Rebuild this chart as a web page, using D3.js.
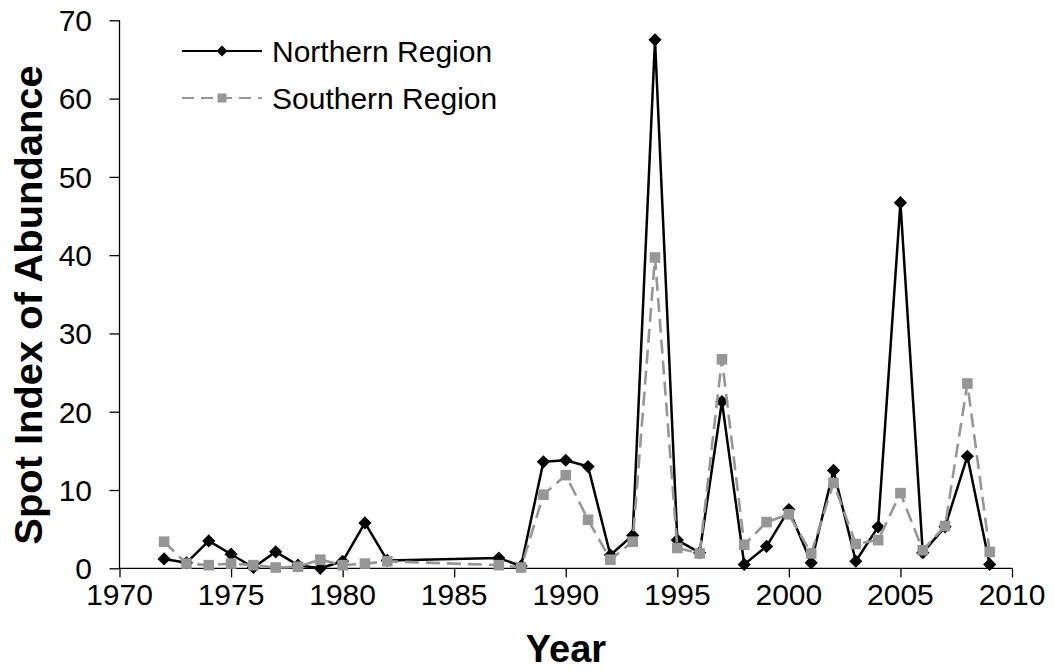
<!DOCTYPE html>
<html>
<head>
<meta charset="utf-8">
<script src="https://cdn.jsdelivr.net/npm/d3@7"></script>
<style>
  html, body { margin: 0; padding: 0; background: #fff; }
  svg { display: block; }
  text { font-family: "Liberation Sans", Arial, sans-serif; fill: #000; }
</style>
</head>
<body>
<svg id="chart" width="1055" height="671"></svg>
<script>
// Survey years (no sampling 1983-1986)
const years = [1972, 1973, 1974, 1975, 1976, 1977, 1978, 1979, 1980, 1981, 1982,
               1987, 1988, 1989, 1990, 1991, 1992, 1993, 1994, 1995, 1996, 1997, 1998,
               1999, 2000, 2001, 2002, 2003, 2004, 2005, 2006, 2007, 2008, 2009];

const northern = [1.2, 0.7, 3.5, 1.8, 0.1, 2.1, 0.4, 0.0, 0.9, 5.8, 1.0,
                  1.3, 0.3, 13.6, 13.8, 13.0, 1.7, 4.2, 67.5, 3.6, 2.0, 21.3, 0.5,
                  2.8, 7.5, 0.7, 12.5, 0.9, 5.3, 46.7, 2.0, 5.3, 14.3, 0.5];

const southern = [3.4, 0.6, 0.4, 0.6, 0.4, 0.1, 0.2, 1.1, 0.4, 0.6, 0.9,
                  0.4, 0.1, 9.4, 11.9, 6.2, 1.1, 3.4, 39.7, 2.6, 1.9, 26.7, 3.0,
                  5.9, 6.9, 1.9, 10.9, 3.1, 3.6, 9.6, 2.3, 5.4, 23.6, 2.1];

const seriesNames = ["Northern Region", "Southern Region"];
const xTicks = [1970, 1975, 1980, 1985, 1990, 1995, 2000, 2005, 2010];
const yTicks = [0, 10, 20, 30, 40, 50, 60, 70];

const svg = d3.select("#chart");

const x = d3.scaleLinear().domain([1970, 2010]).range([119.5, 1012]);
const y = d3.scaleLinear().domain([0, 70]).range([568.3, 20.3]);

// Axes
const xAxis = svg.append("g")
  .attr("transform", `translate(0,${y(0)})`)
  .call(d3.axisBottom(x).tickValues(xTicks).tickSize(9).tickFormat(""));
const yAxis = svg.append("g")
  .attr("transform", `translate(${x(1970)},0)`)
  .call(d3.axisLeft(y).tickValues(yTicks).tickSize(10).tickFormat(""));

[xAxis, yAxis].forEach(a => {
  a.select(".domain").attr("stroke", "#000").attr("stroke-width", 1.3);
  a.selectAll(".tick line").attr("stroke", "#000").attr("stroke-width", 1.3);
});
xAxis.select(".domain").attr("d", `M${x(1970)},0H${x(2010)}`);
yAxis.select(".domain").attr("d", `M0,${y(70)}V${y(0)}`);

svg.append("g").selectAll("text")
  .data(xTicks)
  .join("text")
  .attr("x", d => x(d))
  .attr("y", 605)
  .attr("text-anchor", "middle")
  .attr("font-size", 30)
  .text(d => d);

svg.append("g").selectAll("text")
  .data(yTicks)
  .join("text")
  .attr("x", 92)
  .attr("y", d => y(d))
  .attr("dy", "0.36em")
  .attr("text-anchor", "end")
  .attr("font-size", 30)
  .text(d => d);

// Axis titles
svg.append("text")
  .attr("x", 566)
  .attr("y", 662)
  .attr("text-anchor", "middle")
  .attr("font-size", 38)
  .attr("font-weight", "bold")
  .text("Year");

svg.append("text")
  .attr("transform", "translate(42,305) rotate(-90) scale(1.05,1)")
  .attr("text-anchor", "middle")
  .attr("font-size", 38)
  .attr("font-weight", "bold")
  .text("Spot Index of Abundance");

// Series
const nData = years.map((yr, i) => ({ year: yr, value: northern[i] }));
const sData = years.map((yr, i) => ({ year: yr, value: southern[i] }));

const line = d3.line().x(d => x(d.year)).y(d => y(d.value));
const grey = "#969696";

const diamond = s => `M0,${-s}L${s},0L0,${s}L${-s},0Z`;

// Northern: black solid line with diamonds
svg.append("path")
  .datum(nData)
  .attr("d", line)
  .attr("fill", "none")
  .attr("stroke", "#000")
  .attr("stroke-width", 2.5)
  .attr("stroke-linejoin", "round");

svg.append("g").selectAll("path")
  .data(nData)
  .join("path")
  .attr("transform", d => `translate(${x(d.year)},${y(d.value)})`)
  .attr("d", diamond(6.6))
  .attr("fill", "#000");

// Southern: grey dashed line with squares
svg.append("path")
  .datum(sData)
  .attr("d", line)
  .attr("fill", "none")
  .attr("stroke", grey)
  .attr("stroke-width", 2.6)
  .attr("stroke-dasharray", "14,7");

const sq = 10.6;
svg.append("g").selectAll("rect")
  .data(sData)
  .join("rect")
  .attr("x", d => x(d.year) - sq / 2)
  .attr("y", d => y(d.value) - sq / 2)
  .attr("width", sq)
  .attr("height", sq)
  .attr("fill", grey);

// Legend
const legend = svg.append("g");
const legendRows = [
  { name: seriesNames[0], y: 51, color: "#000", dash: null, marker: "diamond" },
  { name: seriesNames[1], y: 98, color: grey, dash: "12,7", marker: "square" }
];
legendRows.forEach(r => {
  legend.append("line")
    .attr("x1", 182).attr("x2", 262)
    .attr("y1", r.y).attr("y2", r.y)
    .attr("stroke", r.color)
    .attr("stroke-width", 2)
    .attr("stroke-dasharray", r.dash);
  if (r.marker === "diamond") {
    legend.append("path")
      .attr("transform", `translate(222,${r.y})`)
      .attr("d", diamond(5.5))
      .attr("fill", r.color);
  } else {
    legend.append("rect")
      .attr("x", 222 - 4.5).attr("y", r.y - 4.5)
      .attr("width", 9).attr("height", 9)
      .attr("fill", r.color);
  }
  legend.append("text")
    .attr("x", 272)
    .attr("y", r.y + 11)
    .attr("font-size", 30)
    .text(r.name);
});
</script>
</body>
</html>
